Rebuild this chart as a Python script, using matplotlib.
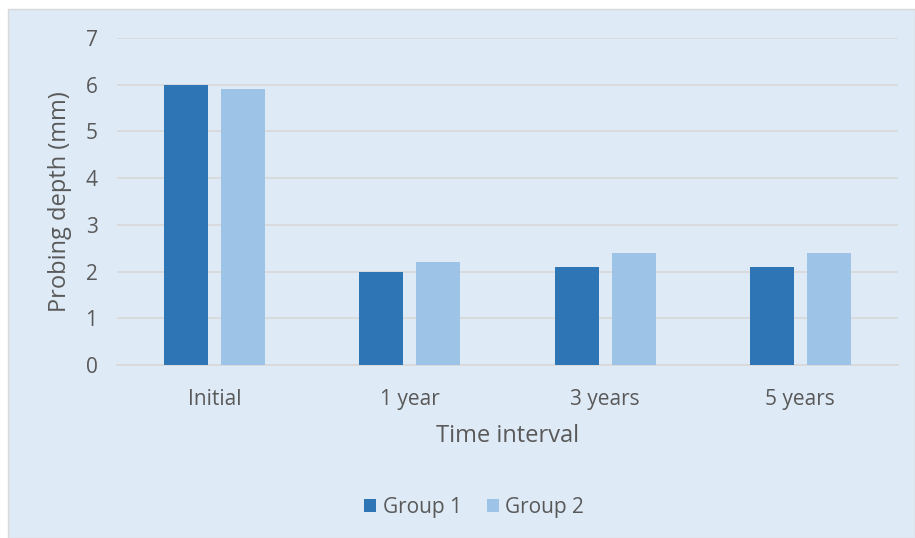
import numpy as np
from matplotlib import pyplot as plt
from matplotlib.patches import Rectangle, Patch

categories = ['Initial', '1 year', '3 years', '5 years']
group1 = [6.0, 2.0, 2.1, 2.1]
group2 = [5.9, 2.2, 2.4, 2.4]
series_names = ['Group 1', 'Group 2']

c1 = '#2E75B6'
c2 = '#9DC3E6'
bg = '#DEEAF6'
txt = '#595959'

plt.rcParams['font.family'] = ['Open Sans', 'DejaVu Sans']

W, H = 915, 538
fig = plt.figure(figsize=(W / 100, H / 100), dpi=100)
fig.patch.set_facecolor('white')
fig.patches.append(Rectangle((8 / W, 0), 1 - 8 / W, 1 - 9 / H, transform=fig.transFigure,
                             facecolor=bg, edgecolor='#D9D9D9', linewidth=1, zorder=-1))

ax = fig.add_axes([117 / W, 173 / H, (898 - 117) / W, (500 - 173) / H])
ax.set_facecolor('none')
ax.set_zorder(1)

x = np.arange(len(categories))
w = 0.225
ax.bar(x - 0.146, group1, w, color=c1, zorder=3)
ax.bar(x + 0.146, group2, w, color=c2, zorder=3)

ax.set_xlim(-0.5, len(categories) - 0.5)
ax.set_ylim(0, 7)
ax.set_yticks(range(8))
ax.grid(axis='y', color='#D9D9D9', linewidth=1.3, zorder=0)
ax.set_xticks(x)
ax.set_xticklabels(categories)
for s in ax.spines.values():
    s.set_visible(False)
ax.spines['bottom'].set_visible(True)
ax.spines['bottom'].set_color('#D9D9D9')
ax.spines['bottom'].set_linewidth(1.3)
ax.tick_params(length=0, labelsize=15, labelcolor=txt)
ax.tick_params(axis='y', pad=14)
ax.tick_params(axis='x', pad=17)

ax.set_ylabel('Probing depth (mm)', fontsize=17, color=txt, labelpad=10)
ax.set_xlabel('Time interval', fontsize=17, color=txt, labelpad=10)

handles = [Patch(facecolor=c1), Patch(facecolor=c2)]
fig.legend(handles, series_names, loc='center', bbox_to_anchor=(474 / W, 1 - 507 / H),
           ncol=2, frameon=False, fontsize=15, labelcolor=txt,
           handlelength=0.6, handleheight=0.6, handletextpad=0.3, columnspacing=1.2)

fig.savefig('out.png', dpi=100, facecolor='white')
